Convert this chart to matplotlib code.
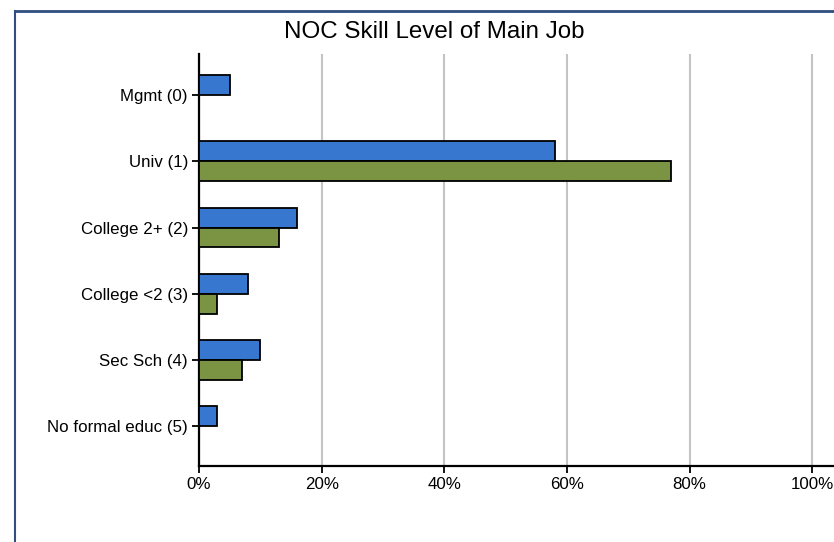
import numpy as np
import matplotlib.pyplot as plt
from matplotlib.lines import Line2D

# Data
categories = ['Mgmt (0)', 'Univ (1)', 'College 2+ (2)', 'College <2 (3)', 'Sec Sch (4)', 'No formal educ (5)']
blue_vals = [5, 58, 16, 8, 10, 3]
green_vals = [0, 77, 13, 3, 7, 0]
x_ticks = [0, 20, 40, 60, 80, 100]
x_labels = ['0%', '20%', '40%', '60%', '80%', '100%']

plt.rcParams['font.family'] = ['Liberation Sans', 'DejaVu Sans']

fig = plt.figure(figsize=(8.34, 5.42), dpi=100)
ax = fig.add_axes([199 / 834, (542 - 466) / 542, (834 - 199) / 834 + 0.01, (466 - 54) / 542])

y = np.arange(len(categories))
h = 0.3
ax.barh(y - h / 2, blue_vals, height=h, color='#3877D0', edgecolor='black', linewidth=1.3, zorder=3)
ax.barh(y + h / 2, green_vals, height=h, color='#7A9444', edgecolor='black', linewidth=1.3, zorder=3)

ax.set_xlim(0, 104.9)
ax.set_ylim(5.6, -0.62)
ax.set_yticks(y)
ax.set_yticklabels(categories, fontsize=12.2)
ax.set_xticks(x_ticks)
ax.set_xticklabels(x_labels, fontsize=12.2)
ax.xaxis.grid(True, color='#c4c4c4', linewidth=1.5, zorder=0)
ax.set_axisbelow(True)
ax.tick_params(axis='both', length=5, width=1.3, color='black', pad=3)

for s in ['top', 'right']:
    ax.spines[s].set_visible(False)
for s in ['left', 'bottom']:
    ax.spines[s].set_linewidth(1.6)

fig.text(434 / 834, 1 - 32 / 542, 'NOC Skill Level of Main Job', fontsize=17.4, ha='center', va='center')

# frame lines around the figure
fig.add_artist(Line2D([15 / 834, 15 / 834], [0, 1 - 11 / 542], transform=fig.transFigure, color='#2f4f7f', linewidth=1.5))
fig.add_artist(Line2D([15 / 834, 1], [1 - 11 / 542, 1 - 11 / 542], transform=fig.transFigure, color='#2f4f7f', linewidth=2))

fig.savefig('out.png', dpi=100)
